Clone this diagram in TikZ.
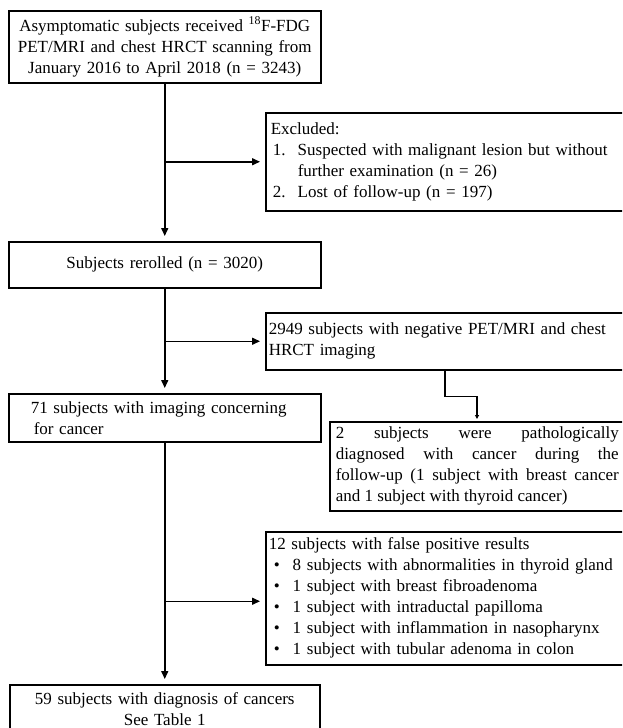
\documentclass[tikz,border=0pt]{standalone}
\usepackage{fontspec}
\setmainfont{Liberation Serif}
\usetikzlibrary{arrows.meta,calc}
\newcommand\fsz{\fontsize{17}{21}\selectfont}
\newcommand\bul{\makebox[24pt][l]{\hspace{5pt}\textbullet}}
\begin{document}
\begin{tikzpicture}[x=1pt,y=-1pt,
  box/.style={draw=black, line width=1.5pt, anchor=north west, font=\fsz, inner ysep=0pt},
  arr/.style={draw=black, line width=1.5pt, -{Triangle[length=8pt,width=7pt]}, shorten >=5pt},
  smallarr/.style={draw=black, line width=1.5pt, -{Triangle[length=4pt,width=4pt]}, shorten >=2pt}]
\useasboundingbox (0,0) rectangle (622,728);
\clip (0,0) rectangle (622,728);
\fill[white] (0,0) rectangle (622,728);

\node[box, text width=300pt, inner xsep=6pt, minimum height=72pt, align=center] (b1) at (8,10)
  {Asymptomatic subjects received \textsuperscript{18}F-FDG\\ PET/MRI and chest HRCT scanning from\\ January 2016 to April 2018 (n = 3243)};

\node[box, text width=353pt, inner xsep=5pt, minimum height=98pt, align=left] (ex) at (265,112)
  {Excluded:\\
   \hspace*{2pt}\makebox[25pt][l]{1.}Suspected with malignant lesion but without\\
   \hspace*{27pt}further examination (n = 26)\\
   \hspace*{2pt}\makebox[25pt][l]{2.}Lost of follow-up (n = 197)};

\node[box, text width=300pt, inner xsep=6pt, minimum height=46pt, align=center] (b2) at (8,241)
  {Subjects rerolled (n = 3020)};

\node[box, text width=357pt, inner xsep=3pt, minimum height=57pt, align=left] (neg) at (265,312)
  {2949 subjects with negative PET/MRI and chest\\ HRCT imaging};

\node[box, text width=268pt, inner xsep=22pt, minimum height=48pt, align=left] (b3) at (8,393)
  {71 subjects with imaging concerning\\ \hspace*{3pt}for cancer};

\node[box, text width=283pt, inner xsep=6pt, minimum height=89pt, align=justify] (two) at (329,421)
  {\tolerance=9999 \hbadness=10000 2 subjects were pathologically\linebreak diagnosed with cancer during the\linebreak follow-up (1 subject with breast cancer\linebreak and 1 subject with thyroid cancer)};

\node[box, text width=357pt, inner xsep=3pt, minimum height=133pt, align=left] (fp) at (265,531)
  {12 subjects with false positive results\\
   \bul 8 subjects with abnormalities in thyroid gland\\
   \bul 1 subject with breast fibroadenoma\\
   \bul 1 subject with intraductal papilloma\\
   \bul 1 subject with inflammation in nasopharynx\\
   \bul 1 subject with tubular adenoma in colon};

\node[box, text width=298pt, inner xsep=6pt, minimum height=49pt, align=center] (b5) at (9,684)
  {59 subjects with diagnosis of cancers\\ See Table 1};

\draw[arr] (b1.south) -- (b2.north);
\draw[arr] (b1.south |- ex.west) -- (ex.west);
\draw[arr] (b2.south) -- (b3.north);
\draw[arr] (b2.south |- neg.west) -- (neg.west);
\draw[arr] (b3.south) -- (b5.north);
\coordinate (fpin) at ($(fp.west)+(0,3)$);
\draw[arr] (b3.south |- fpin) -- (fpin);
\coordinate (negout) at ($(neg.south west)+(180,0)$);
\coordinate (twoin) at ($(two.north west)+(148,0)$);
\draw[smallarr] (negout) -- ++(0,26) -| (twoin);
\end{tikzpicture}
\end{document}
